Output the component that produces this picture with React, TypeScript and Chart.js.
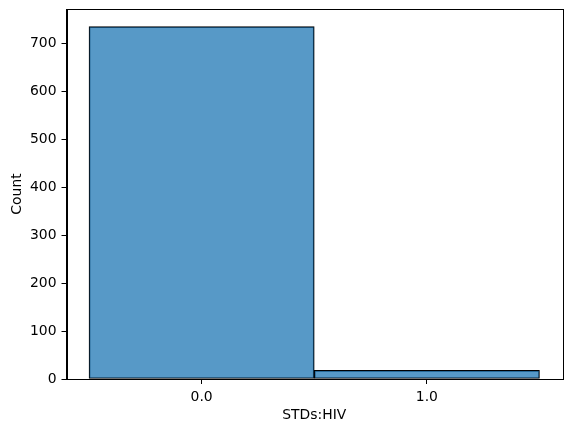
import React, { useEffect, useRef } from "react";
import { Chart, registerables, Plugin } from "chart.js";

Chart.register(...registerables);

// Histogram of STDs:HIV (bins centred on 0 and 1, width 1)
const binCenters: number[] = [0, 1];
const counts: number[] = [735, 18];
const xTicks: number[] = [0, 1];
const yTicks: number[] = [0, 100, 200, 300, 400, 500, 600, 700];

const FONT = '"DejaVu Sans", sans-serif';
const FONT_SIZE = 13.9;

// matplotlib-style frame around the axes
const framePlugin: Plugin<"bar"> = {
  id: "frame",
  afterDraw(chart) {
    const { ctx, chartArea } = chart;
    ctx.save();
    ctx.strokeStyle = "#000000";
    ctx.lineWidth = 1;
    ctx.strokeRect(
      Math.round(chartArea.left) + 0.5,
      Math.round(chartArea.top) + 0.5,
      Math.round(chartArea.right - chartArea.left),
      Math.round(chartArea.bottom - chartArea.top),
    );
    ctx.restore();
  },
};

const App: React.FC = () => {
  const canvasRef = useRef<HTMLCanvasElement>(null);

  useEffect(() => {
    document.body.style.margin = "0";
    if (!canvasRef.current) return;

    const chart = new Chart(canvasRef.current, {
      type: "bar",
      data: {
        datasets: [
          {
            data: binCenters.map((x, i) => ({ x, y: counts[i] })),
            backgroundColor: "rgba(31, 119, 180, 0.75)",
            borderColor: "#000000",
            borderWidth: 1,
            borderSkipped: false,
            barPercentage: 1,
            categoryPercentage: 1,
          },
        ],
      },
      options: {
        animation: false,
        responsive: false,
        devicePixelRatio: 1,
        layout: { padding: { top: 9, right: 9, bottom: 0, left: 0 } },
        plugins: {
          legend: { display: false },
          tooltip: { enabled: false },
        },
        scales: {
          x: {
            type: "linear",
            offset: false,
            min: -0.6,
            max: 1.6,
            afterBuildTicks: (scale) => {
              scale.ticks = xTicks.map((value) => ({ value }));
            },
            afterFit: (scale) => {
              scale.height = 53;
              scale.paddingLeft = 0;
              scale.paddingRight = 0;
            },
            ticks: {
              color: "#000000",
              font: { family: FONT, size: FONT_SIZE },
              padding: 5,
              maxRotation: 0,
              callback: (v) => Number(v).toFixed(1),
            },
            grid: {
              drawOnChartArea: false,
              drawTicks: true,
              tickLength: 5,
              color: "#000000",
              offset: false,
            },
            border: { display: true, color: "#000000" },
            title: {
              display: true,
              text: "STDs:HIV",
              color: "#000000",
              font: { family: FONT, size: FONT_SIZE },
              padding: { top: 0, bottom: 8 },
            },
          },
          y: {
            type: "linear",
            min: 0,
            max: 771.75,
            afterBuildTicks: (scale) => {
              scale.ticks = yTicks.map((value) => ({ value }));
            },
            afterFit: (scale) => {
              scale.width = 66.5;
              scale.paddingTop = 0;
              scale.paddingBottom = 0;
            },
            ticks: {
              color: "#000000",
              font: { family: FONT, size: FONT_SIZE },
              padding: 5,
            },
            grid: {
              drawOnChartArea: false,
              drawTicks: true,
              tickLength: 5,
              color: "#000000",
            },
            border: { display: true, color: "#000000" },
            title: {
              display: true,
              text: "Count",
              color: "#000000",
              font: { family: FONT, size: FONT_SIZE },
              padding: { top: 9, bottom: 0 },
            },
          },
        },
      },
      plugins: [framePlugin],
    });

    return () => {
      chart.destroy();
    };
  }, []);

  return (
    <div style={{ width: "571px", height: "432px", background: "#ffffff" }}>
      <canvas ref={canvasRef} width={571} height={432}></canvas>
    </div>
  );
};

export default App;
